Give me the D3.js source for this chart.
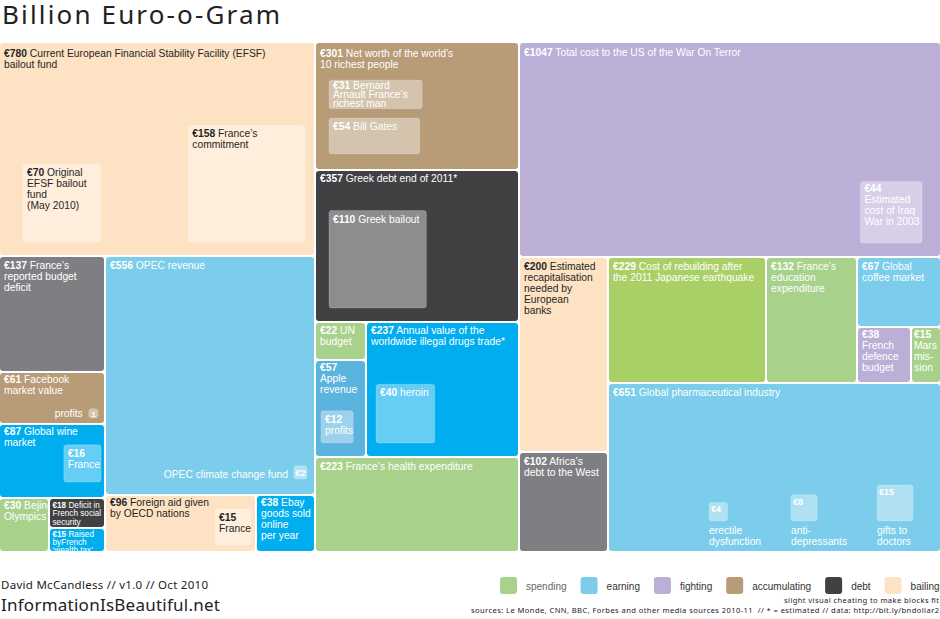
<!DOCTYPE html>
<html lang="en">
<head>
<meta charset="UTF-8">
<title>Billion Euro-o-Gram</title>
<script src="https://d3js.org/d3.v7.min.js"></script>
<style>
  body { margin: 0; background: #fff; }
  svg { display: block; }
  text { white-space: pre; }
  .lbl { font-family: "Liberation Sans", Arial, Helvetica, sans-serif; }
  .head { font-family: "Noto Sans", "Open Sans", sans-serif; fill: #222; }
</style>
</head>
<body>
<svg id="chart" width="940" height="619"></svg>
<script>
// outer blocks, in drawing order
const blockIds = ["efsf", "frDeficit", "facebook", "wine", "olympics", "socialSec", "wealthTax", "opec", "aid", "ebay",
                  "richest", "greekDebt", "un", "apple", "drugs", "health",
                  "terror", "recap", "africa", "japan", "education", "coffee", "defence", "mars", "pharma"];
const blockValues = [780, 137, 61, 87, 30, 18, 15, 556, 96, 38,
                     301, 357, 22, 57, 237, 223,
                     1047, 200, 102, 229, 132, 67, 38, 15, 651];
const blockCategories = ["bailing", "debt", "accumulating", "earning", "spending", "debt", "earning", "earning", "bailing", "earning",
                         "accumulating", "debt", "spending", "earning", "earning", "spending",
                         "fighting", "bailing", "debt", "spending", "spending", "earning", "fighting", "spending", "earning"];
const blockLabels = [
  ["€780 Current European Financial Stability Facility (EFSF)", "bailout fund"],
  ["€137 France’s", "reported budget", "deficit"],
  ["€61 Facebook", "market value"],
  ["€87 Global wine", "market"],
  ["€30 Bejing", "Olympics"],
  ["€18 Deficit in", "French social", "security"],
  ["€15 Raised", "byFrench", "‘wealth tax’"],
  ["€556 OPEC revenue"],
  ["€96 Foreign aid given", "by OECD nations"],
  ["€38 Ebay", "goods sold", "online", "per year"],
  ["€301 Net worth of the world’s", "10 richest people"],
  ["€357 Greek debt end of 2011*"],
  ["€22 UN", "budget"],
  ["€57", "Apple", "revenue"],
  ["€237 Annual value of the", "worldwide illegal drugs trade*"],
  ["€223 France’s health expenditure"],
  ["€1047 Total cost to the US of the War On Terror"],
  ["€200 Estimated", "recapitalisation", "needed by", "European", "banks"],
  ["€102 Africa’s", "debt to the West"],
  ["€229 Cost of rebuilding after", "the 2011 Japanese earthquake"],
  ["€132 France’s", "education", "expenditure"],
  ["€67 Global", "coffee market"],
  ["€38", "French", "defence", "budget"],
  ["€15", "Mars", "mis-", "sion"],
  ["€651 Global pharmaceutical industry"]
];

// blocks nested inside other blocks
const subIds = ["efsfFrance", "efsfOriginal", "arnault", "gates", "greekBailout", "iraq", "wineFrance", "aidFrance",
                "appleProfits", "heroin", "erectile", "antidep", "gifts", "opecClimate", "fbProfits"];
const subParents = ["efsf", "efsf", "richest", "richest", "greekDebt", "terror", "wine", "aid",
                    "apple", "drugs", "pharma", "pharma", "pharma", "opec", "facebook"];
const subValues = [158, 70, 31, 54, 110, 44, 16, 15, 12, 40, 4, 8, 15, 2, 1];
const subLabels = [
  ["€158 France’s", "commitment"],
  ["€70 Original", "EFSF bailout", "fund", "(May 2010)"],
  ["€31 Bernard", "Arnault France’s", "richest man"],
  ["€54 Bill Gates"],
  ["€110 Greek bailout"],
  ["€44", "Estimated", "cost of Iraq", "War in 2003"],
  ["€16", "France"],
  ["€15", "France"],
  ["€12", "profits"],
  ["€40 heroin"],
  ["erectile", "dysfunction"],
  ["anti-", "depressants"],
  ["gifts to", "doctors"],
  ["OPEC climate change fund"],
  ["profits"]
];
const subBadges = [null, null, null, null, null, null, null, null, null, null, "€4", "€8", "€15", "€2", "1"];

const legendCategories = ["spending", "earning", "fighting", "accumulating", "debt", "bailing"];

// how the blocks are cut: dice = side by side, slice = stacked.
// "cheat" is the slight visual cheating that makes the blocks fit
const layoutTree = {dir: "dice", children: [
  {dir: "slice", children: ["efsf", {dir: "dice", cheat: 1.04, children: [
    {dir: "slice", children: ["frDeficit", "facebook", "wine",
      {dir: "dice", children: ["olympics", {dir: "slice", children: ["socialSec", "wealthTax"]}]}]},
    {dir: "slice", children: ["opec", {dir: "dice", children: ["aid", "ebay"]}]}
  ]}]},
  {dir: "slice", children: ["richest", "greekDebt",
    {dir: "dice", children: [{dir: "slice", children: ["un", "apple"]}, "drugs"]}, "health"]},
  {dir: "slice", children: ["terror", {dir: "dice", children: [
    {dir: "slice", children: ["recap", "africa"]},
    {dir: "slice", children: [
      {dir: "dice", children: ["japan", "education",
        {dir: "slice", children: ["coffee", {dir: "dice", children: ["defence", "mars"]}]}]},
      "pharma"]}
  ]}]}
]};
const leafCheat = {defence: 0.9, mars: 1.3};

// styling
const categoryColors = {spending: "#a8d18b", earning: "#7bcdeb", fighting: "#bbafd7",
                        accumulating: "#b89b77", debt: "#414143", bailing: "#fde3c3"};
const toneOverrides = {frDeficit: "#7f7f83", africa: "#7f7f83", wine: "#00aeef", drugs: "#00aeef",
                       ebay: "#00aeef", wealthTax: "#00aeef", apple: "#5ab4de", japan: "#a9d066"};
const labelTweaks = {
  efsf: {dy: 14}, richest: {dy: 14}, terror: {dy: 13},
  facebook: {dy: 10}, wine: {dy: 10}, olympics: {dy: 10}, aid: {dy: 10}, ebay: {dy: 10},
  apple: {dy: 10}, greekDebt: {dy: 11}, un: {dy: 11}, drugs: {dy: 11},
  socialSec: {fs: 8.2, lh: 8.3, dy: 9, dx: 2.5}, wealthTax: {fs: 8.2, lh: 8.2, dy: 8, dx: 2.5},
  defence: {dy: 10}, mars: {dy: 10, dx: 2}
};
const subPlacement = {
  efsfFrance: {h: "right", dx: 9, v: "bottom", dy: 13},
  efsfOriginal: {h: "left", dx: 23, v: "bottom", dy: 13},
  arnault: {h: "left", dx: 13, v: "top", dy: 37, aspect: 3.25, lh: 9, ty: 9},
  gates: {h: "left", dx: 13, v: "top", dy: 75, aspect: 2.53, fit: 0.7},
  greekBailout: {h: "left", dx: 13, v: "bottom", dy: 13},
  iraq: {h: "right", dx: 18, v: "bottom", dy: 13, ty: 11},
  wineFrance: {h: "right", dx: 3, v: "bottom", dy: 15},
  aidFrance: {h: "right", dx: 4, v: "bottom", dy: 6},
  appleProfits: {h: "left", dx: 5, v: "bottom", dy: 13},
  heroin: {h: "left", dx: 9, v: "bottom", dy: 13},
  erectile: {h: "left", dx: 100, v: "bottom", dy: 30, mode: "below"},
  antidep: {h: "left", dx: 182, v: "bottom", dy: 30, mode: "below"},
  gifts: {h: "left", dx: 268, v: "bottom", dy: 30, mode: "below"},
  opecClimate: {h: "right", dx: 7, v: "bottom", dy: 15, mode: "left"},
  fbProfits: {h: "right", dx: 6, v: "bottom", dy: 5, mode: "left"}
};

const mapTop = 43, mapW = 940, mapH = 508;

const valueById = new Map(blockIds.map((id, i) => [id, blockValues[i]]));
function toNode(c, k) {
  if (typeof c === "string") return {id: c, k: k * (leafCheat[c] || 1)};
  const kk = k * (c.cheat || 1);
  return {dir: c.dir, children: c.children.map(ch => toNode(ch, kk))};
}
const root = d3.hierarchy(toNode(layoutTree, 1)).sum(d => d.id ? valueById.get(d.id) * d.k : 0);
d3.treemap()
  .size([mapW, mapH])
  .paddingInner(2)
  .round(true)
  .tile((node, x0, y0, x1, y1) =>
    (node.data.dir === "slice" ? d3.treemapSlice : d3.treemapDice)(node, x0, y0, x1, y1))(root);
const leafById = new Map(root.leaves().map(l => [l.data.id, l]));

// nested boxes use the same area per euro as the treemap
const side = d3.scaleSqrt().domain([0, root.value]).range([0, Math.sqrt(mapW * mapH)]);

const svg = d3.select("#chart");

function writeLines(g, lines, x, y, opt, ink, anchor) {
  const t = g.append("text").attr("class", "lbl").attr("fill", ink)
    .attr("font-size", opt.fs).attr("text-anchor", anchor || "start");
  lines.forEach((line, i) => {
    const m = i === 0 ? line.match(/^(€\d+)(.*)$/) : null;
    if (m) {
      t.append("tspan").attr("x", x).attr("y", y).attr("font-weight", "bold").text(m[1]);
      if (m[2]) t.append("tspan").text(m[2]);
    } else {
      t.append("tspan").attr("x", x).attr("y", y + i * opt.lh).text(line);
    }
  });
}

function drawSub(g, n, j, color, ink) {
  const p = Object.assign({aspect: 1, fit: 1, mode: "inside", lh: 11, ty: 12}, subPlacement[subIds[j]]);
  const s = side(subValues[j] * p.fit);
  const w = s * Math.sqrt(p.aspect), h = s / Math.sqrt(p.aspect);
  const x = p.h === "left" ? n.x0 + p.dx : n.x1 - p.dx - w;
  const y = p.v === "top" ? n.y0 + p.dy : n.y1 - p.dy - h;
  const fill = d3.interpolateRgb(color, "#fff")(0.4);
  g.append("rect")
    .attr("x", x).attr("y", y).attr("width", w).attr("height", h)
    .attr("rx", 2.5).attr("fill", fill)
    .attr("stroke", "rgba(255,255,255,0.45)").attr("stroke-dasharray", "1 1").attr("stroke-width", 0.8);
  if (p.mode === "inside") {
    writeLines(g, subLabels[j], x + 4, y + p.ty, {fs: 10.3, lh: p.lh}, ink);
  } else if (p.mode === "below") {
    g.append("text").attr("class", "lbl").attr("fill", "#fff").attr("font-weight", "bold")
      .attr("font-size", 9).attr("x", x + 2).attr("y", y + 10).text(subBadges[j]);
    writeLines(g, subLabels[j], x, y + h + 13, {fs: 10.3, lh: 11}, "#fff");
  } else {
    g.append("text").attr("class", "lbl").attr("fill", "#fff").attr("font-weight", "bold")
      .attr("font-size", h > 11 ? 9.5 : 8).attr("text-anchor", "middle")
      .attr("x", x + w / 2).attr("y", y + h / 2 + 3.3).text(subBadges[j]);
    writeLines(g, subLabels[j], x - 6, y + h - 1.5, {fs: 10.3, lh: 11}, "#fff", "end");
  }
}

const map = svg.append("g").attr("transform", `translate(0,${mapTop})`);
blockIds.forEach((id, i) => {
  const n = leafById.get(id);
  const color = toneOverrides[id] || categoryColors[blockCategories[i]];
  const ink = blockCategories[i] === "bailing" ? "#262626" : "#fff";
  const g = map.append("g");
  g.append("rect")
    .attr("x", n.x0).attr("y", n.y0)
    .attr("width", n.x1 - n.x0).attr("height", n.y1 - n.y0)
    .attr("rx", 3).attr("fill", color);
  const tw = Object.assign({fs: 10.3, lh: 11, dy: 12, dx: 4}, labelTweaks[id]);
  writeLines(g, blockLabels[i], n.x0 + tw.dx, n.y0 + tw.dy, tw, ink);
  subIds.forEach((sid, j) => { if (subParents[j] === id) drawSub(g, n, j, color, ink); });
});

// title
svg.append("text").attr("class", "head").attr("x", 2).attr("y", 24)
  .attr("font-size", 26).attr("textLength", 278).attr("lengthAdjust", "spacing")
  .text("Billion Euro-o-Gram");

// legend
const legend = svg.append("g").attr("transform", "translate(500,577)");
let lx = 0;
legendCategories.forEach(c => {
  const item = legend.append("g").attr("transform", `translate(${lx},0)`);
  item.append("rect").attr("width", 17).attr("height", 17).attr("rx", 3).attr("fill", categoryColors[c]);
  const t = item.append("text").attr("class", "lbl").attr("x", 26).attr("y", 12.5)
    .attr("font-size", 10).attr("fill", c === "spending" ? "#666" : "#333").text(c);
  lx += 26 + t.node().getComputedTextLength() + 14;
});

// credits
svg.append("text").attr("class", "head").attr("x", 1).attr("y", 589)
  .attr("font-size", 11.5).attr("textLength", 207).attr("lengthAdjust", "spacing")
  .text("David McCandless // v1.0 // Oct 2010");
svg.append("text").attr("class", "head").attr("x", 1).attr("y", 611)
  .attr("font-size", 17).attr("textLength", 219).attr("lengthAdjust", "spacing")
  .text("InformationIsBeautiful.net");
svg.append("text").attr("class", "head").attr("x", 939).attr("y", 603).attr("text-anchor", "end")
  .attr("font-size", 7.6).attr("textLength", 155).attr("lengthAdjust", "spacing")
  .text("slight visual cheating to make blocks fit");
svg.append("text").attr("class", "head").attr("x", 471).attr("y", 613)
  .attr("font-size", 7.6).attr("textLength", 468).attr("lengthAdjust", "spacing")
  .text("sources: Le Monde, CNN, BBC, Forbes and other media sources 2010-11  // * = estimated // data: http://bit.ly/bndollar2");
</script>
</body>
</html>
